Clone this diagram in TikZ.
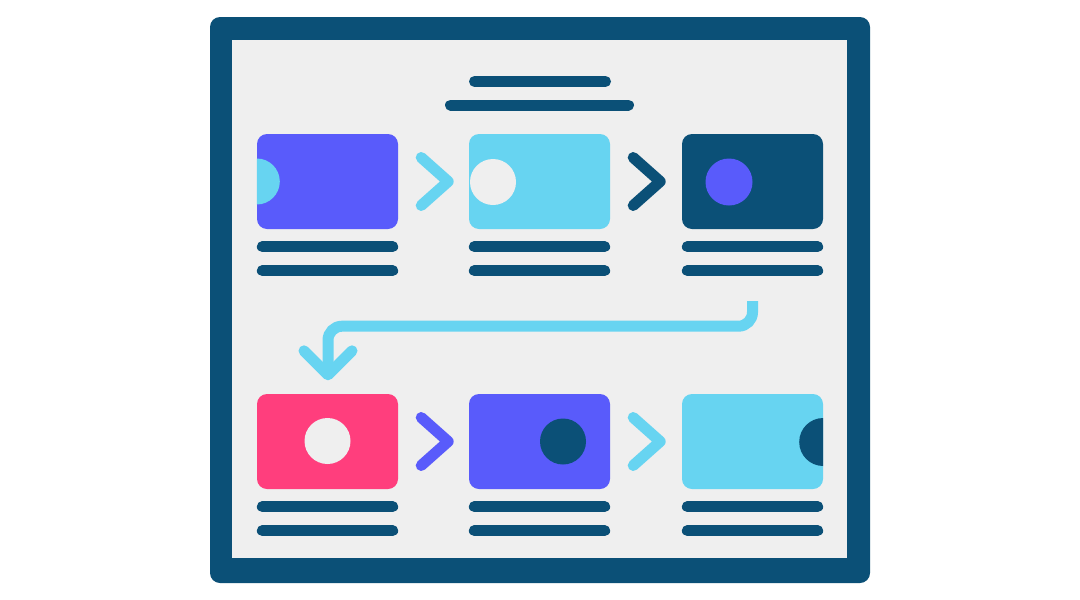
\documentclass[tikz,border=0pt]{standalone}
\usetikzlibrary{calc}
\definecolor{cnavy}{HTML}{0B5077}
\definecolor{cpurple}{HTML}{595BFB}
\definecolor{csky}{HTML}{67D4F1}
\definecolor{cpink}{HTML}{FF3E7D}
\definecolor{cpanel}{HTML}{EFEFEF}
\tikzset{
  card/.style={rounded corners=10pt, minimum width=141pt, minimum height=95pt, inner sep=0pt, draw=none},
  textline/.style={cnavy, line width=11pt, line cap=round},
  chev/.style={line width=11pt, line cap=round, line join=round},
  conn/.style={csky, line width=11pt, rounded corners=14pt},
  connhead/.style={csky, line width=11pt, line cap=round, line join=round},
}
\newcommand{\undertext}[1]{%
  \draw[textline] ($(#1.south west)+(5.5,17.5)$) -- ($(#1.south east)+(-5.5,17.5)$);
  \draw[textline] ($(#1.south west)+(5.5,41.5)$) -- ($(#1.south east)+(-5.5,41.5)$);
}
\newcommand{\chevron}[2]{%
  \draw[chev,#2] ($(#1.east)+(23,-24)$) -- ($(#1.east)+(50,0)$) -- ($(#1.east)+(23,24)$);
}
\begin{document}
\begin{tikzpicture}[x=1pt,y=-1pt]
\useasboundingbox (0,0) rectangle (1080,600);
\fill[white] (0,0) rectangle (1080,600);
% frame
\fill[cnavy, rounded corners=10pt] (210,17) rectangle (870,583);
\fill[cpanel] (232,40) rectangle (847,558);
% title lines
\draw[textline] (474.5,81.5) -- (605.5,81.5);
\draw[textline] (450.5,105) -- (628.5,105);
% cards
\node[card, fill=cpurple] (b1) at (327.5,181.5) {};
\node[card, fill=csky]    (b2) at (539.5,181.5) {};
\node[card, fill=cnavy]   (b3) at (752.5,181.5) {};
\node[card, fill=cpink]   (b4) at (327.5,441.5) {};
\node[card, fill=cpurple] (b5) at (539.5,441.5) {};
\node[card, fill=csky]    (b6) at (752.5,441.5) {};
% circles
\begin{scope}
  \clip[rounded corners=10pt] (b1.south west) rectangle (b1.north east);
  \fill[csky] (b1.west) circle (23pt);
\end{scope}
\fill[cpanel] ($(b2.center)+(-46.5,0.5)$) circle (23pt);
\fill[cpurple] ($(b3.center)+(-23.5,0.5)$) circle (23.5pt);
\fill[cpanel] ($(b4.center)+(0,-0.5)$) circle (23pt);
\fill[cnavy] ($(b5.center)+(23.5,0)$) circle (23pt);
\begin{scope}
  \clip[rounded corners=10pt] (b6.south west) rectangle (b6.north east);
  \fill[cnavy] ($(b6.east)+(0,0.5)$) circle (24pt);
\end{scope}
% text lines under cards
\undertext{b1}
\undertext{b2}
\undertext{b3}
\undertext{b4}
\undertext{b5}
\undertext{b6}
% chevrons
\chevron{b1}{csky}
\chevron{b2}{cnavy}
\chevron{b4}{cpurple}
\chevron{b5}{csky}
% connector from row 1 to row 2
\coordinate (cs) at ($(b3.south)+(0,72)$);
\coordinate (ce) at ($(b4.north)+(0.5,-19)$);
\draw[conn] (cs) -- ++(0,25) -| ($(ce)+(0,-4)$);
\draw[connhead] ($(ce)+(-24,-24)$) -- (ce) -- ($(ce)+(24,-24)$);
\end{tikzpicture}
\end{document}
